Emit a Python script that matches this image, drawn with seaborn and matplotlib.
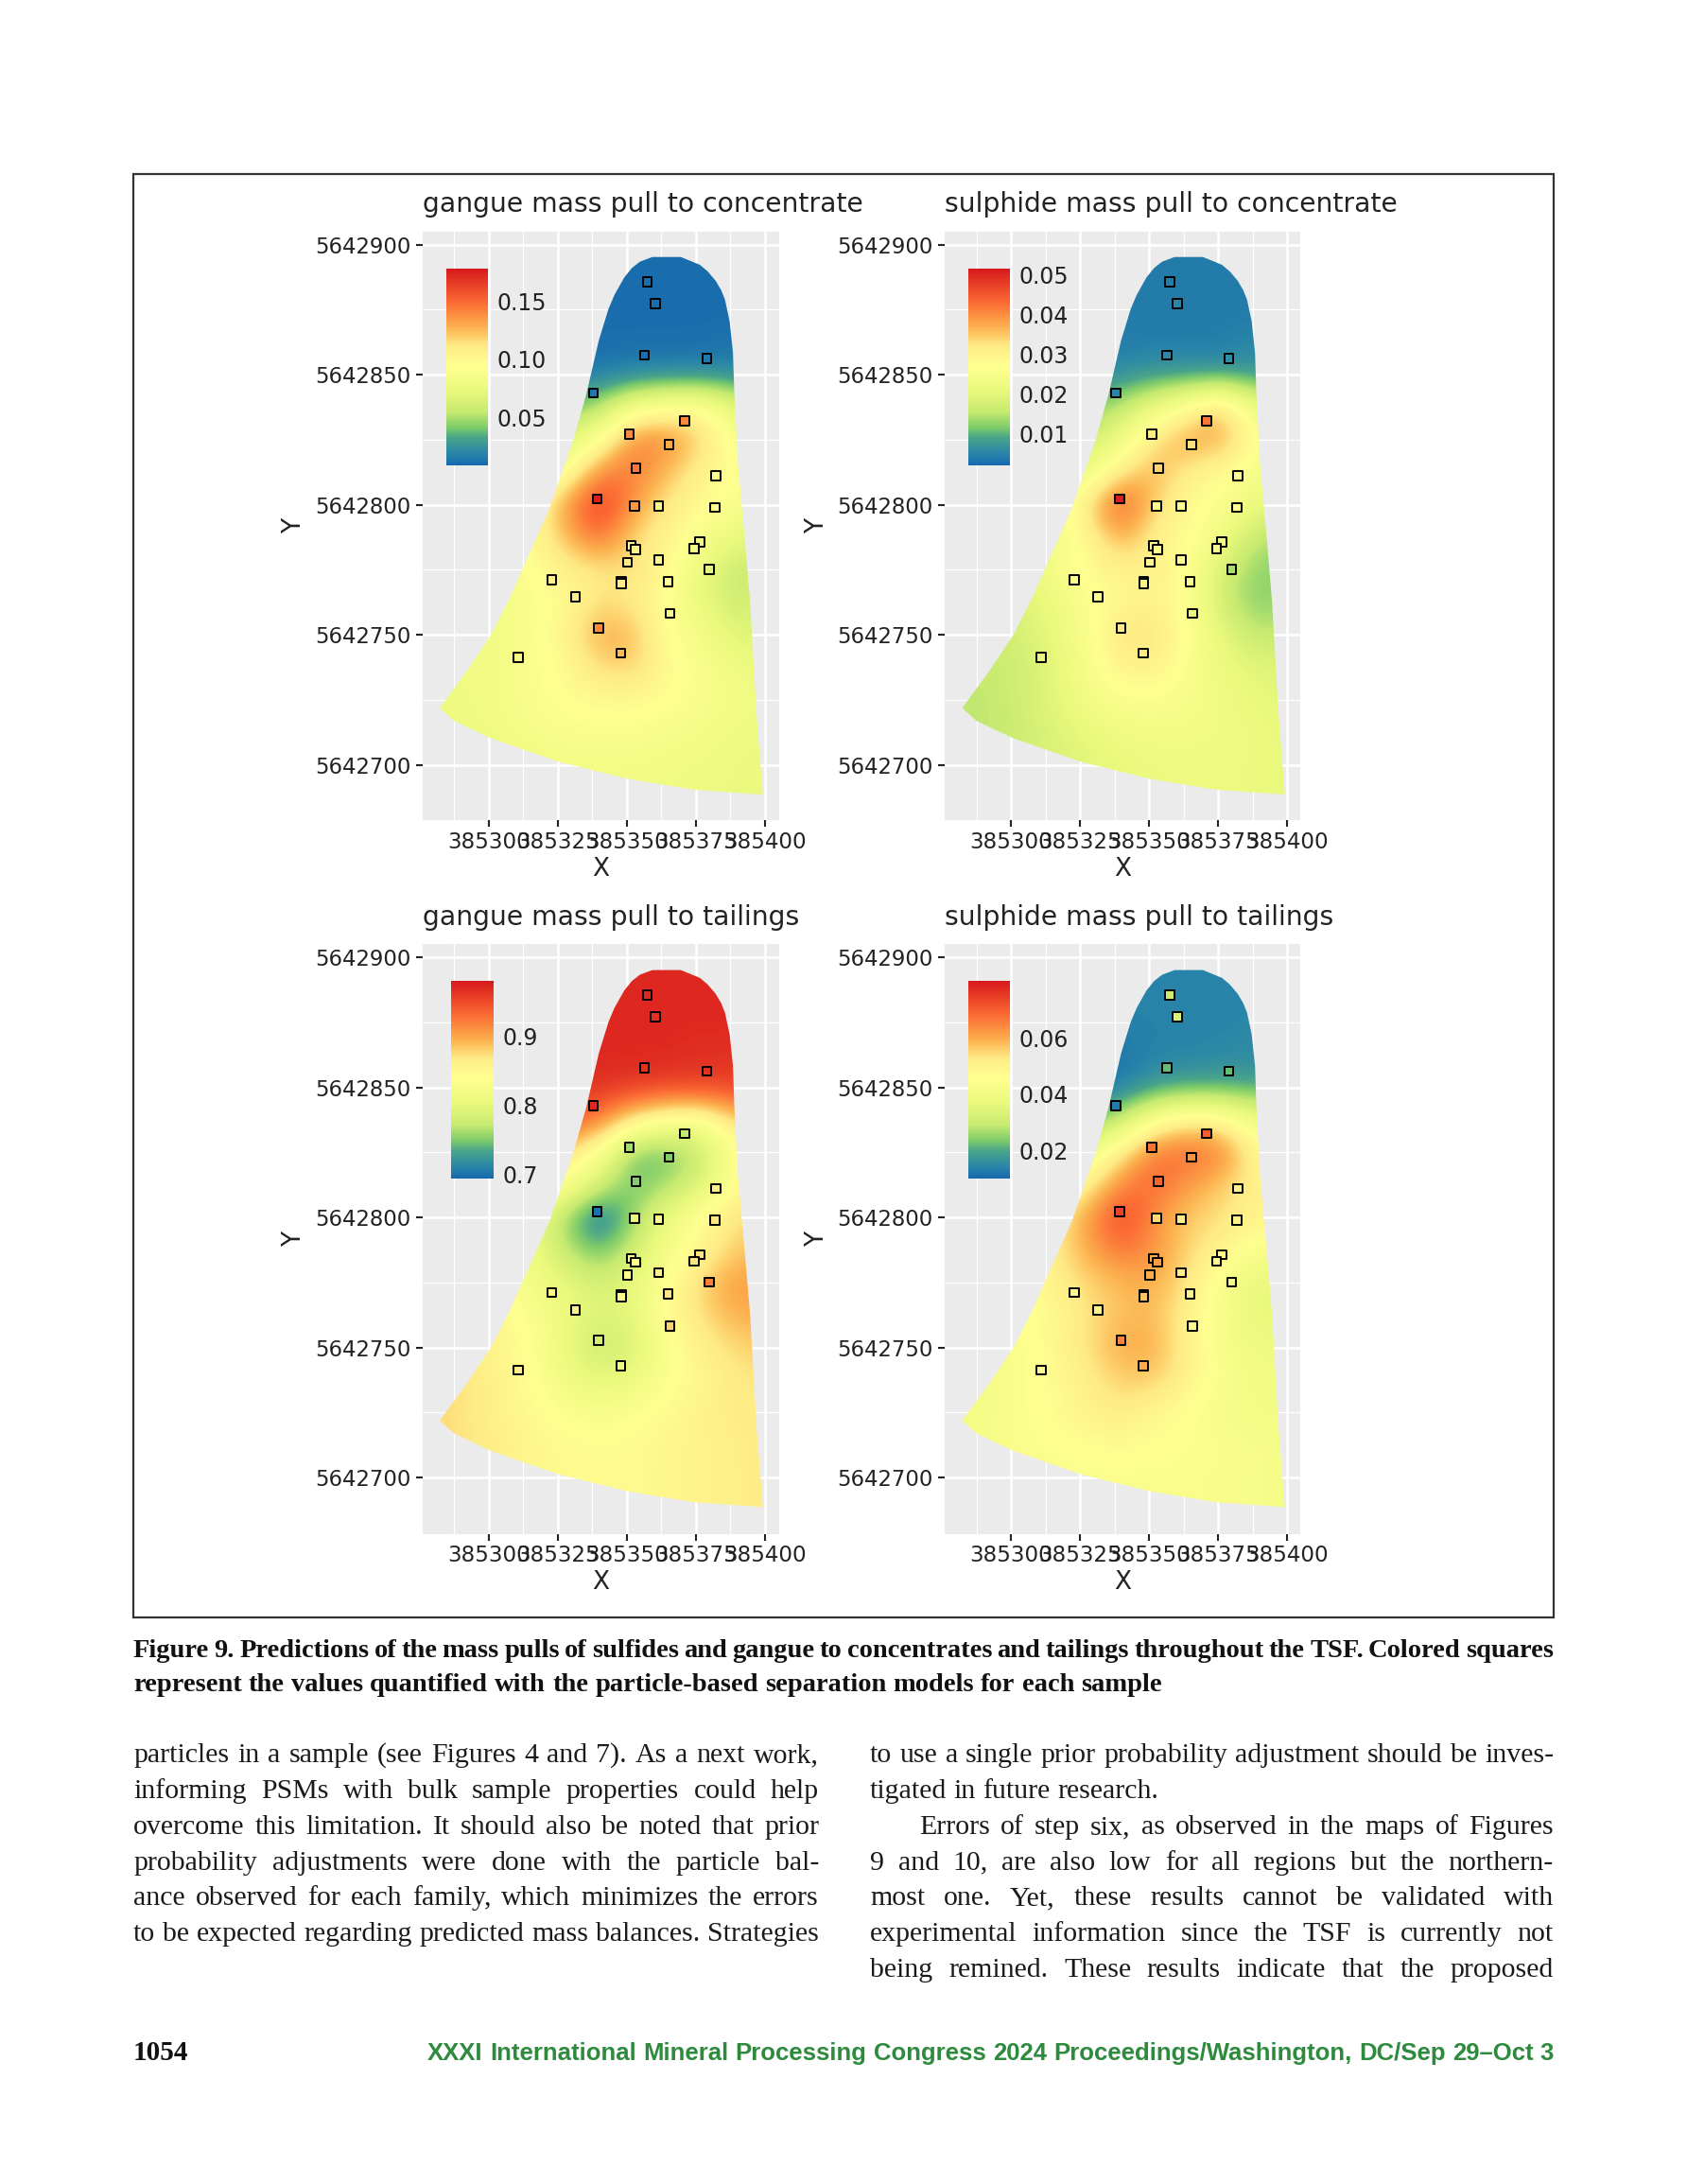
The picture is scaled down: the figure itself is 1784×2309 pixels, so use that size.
import numpy as np
import seaborn as sns
import matplotlib.pyplot as plt
from matplotlib.colors import LinearSegmentedColormap
from matplotlib.patches import Polygon, Rectangle

# sample locations
sample_x = [385357.4, 385360.2, 385356.4, 385378.9, 385337.9, 385370.8, 385350.9, 385365.3, 385353.3, 385382.2,
            385339.2, 385352.7, 385361.5, 385381.9, 385376.4, 385374.4, 385351.6, 385353.0, 385350.2, 385361.5,
            385379.9, 385322.8, 385348.0, 385348.0, 385364.9, 385331.4, 385365.6, 385339.8, 385347.8, 385310.7]
sample_y = [5642885.7, 5642877.3, 5642857.5, 5642856.3, 5642842.9, 5642832.3, 5642827.1, 5642823.2, 5642814.0, 5642811.2,
            5642802.2, 5642799.6, 5642799.4, 5642799.0, 5642785.7, 5642783.2, 5642784.2, 5642782.8, 5642777.9, 5642778.8,
            5642775.1, 5642771.2, 5642770.3, 5642769.6, 5642770.5, 5642764.5, 5642758.2, 5642752.7, 5642743.0, 5642741.3]

# sample colours read back to values through each legend
gangue_conc_samples = [.012, .012, .012, .015, .015, .14, .14, .13, .145, .09, .175, .135, .105, .09, .085,
                       .085, .10, .105, .11, .10, .07, .105, .115, .11, .095, .11, .09, .14, .125, .085]
sulphide_conc_samples = [.004, .005, .005, .006, .005, .042, .032, .033, .034, .027, .051, .028, .027, .027, .024,
                         .025, .029, .028, .029, .028, .014, .027, .031, .03, .026, .027, .021, .032, .032, .022]
gangue_tail_samples = [.97, .965, .965, .965, .97, .77, .76, .75, .75, .86, .70, .80, .85, .87, .87,
                       .87, .83, .84, .84, .86, .92, .85, .84, .84, .87, .86, .88, .78, .81, .86]
sulphide_tail_samples = [.03, .033, .022, .022, .013, .07, .067, .063, .069, .05, .074, .055, .052, .05, .048,
                         .048, .06, .062, .06, .052, .04, .048, .058, .057, .05, .05, .048, .065, .06, .045]

# predicted surface read at grid nodes, rows from north to south
grid_x = [385280, 385292, 385304, 385316, 385328, 385340, 385352, 385364, 385376, 385388, 385400]
grid_y = [5642900, 5642887.5, 5642875, 5642862.5, 5642850, 5642837.5, 5642825, 5642812.5, 5642800,
          5642787.5, 5642775, 5642762.5, 5642750, 5642737.5, 5642725, 5642712.5, 5642700, 5642687.5]

gangue_conc_grid = [
    [.012, .012, .012, .012, .012, .012, .012, .012, .012, .012, .012],
    [.012, .012, .012, .012, .012, .012, .012, .012, .012, .012, .012],
    [.012, .012, .012, .012, .012, .012, .012, .012, .012, .012, .012],
    [.012, .012, .012, .012, .012, .012, .012, .012, .012, .013, .014],
    [.015, .015, .015, .015, .015, .016, .018, .02, .02, .02, .02],
    [.03, .03, .03, .035, .04, .05, .085, .095, .10, .075, .06],
    [.06, .06, .065, .065, .07, .09, .14, .14, .12, .09, .085],
    [.075, .075, .075, .08, .09, .14, .145, .125, .105, .095, .09],
    [.08, .08, .085, .095, .135, .17, .135, .11, .10, .09, .085],
    [.08, .085, .09, .10, .125, .15, .115, .105, .09, .075, .07],
    [.08, .08, .085, .095, .105, .11, .115, .10, .075, .058, .055],
    [.08, .08, .085, .09, .10, .115, .11, .095, .075, .06, .06],
    [.08, .08, .085, .09, .105, .13, .125, .095, .085, .07, .068],
    [.08, .08, .085, .09, .10, .115, .12, .10, .09, .08, .075],
    [.08, .08, .085, .09, .095, .10, .10, .095, .09, .085, .08],
    [.075, .078, .082, .088, .09, .09, .09, .088, .085, .08, .078],
    [.072, .072, .075, .08, .085, .085, .085, .082, .08, .078, .075],
    [.072, .072, .075, .078, .08, .08, .08, .08, .078, .076, .075],
]
sulphide_conc_grid = [
    [.004, .004, .004, .004, .004, .004, .004, .004, .004, .004, .004],
    [.004, .004, .004, .004, .004, .004, .004, .004, .004, .004, .004],
    [.004, .004, .004, .004, .004, .004, .004, .004, .004, .004, .004],
    [.004, .004, .004, .004, .004, .004, .004, .004, .004, .005, .005],
    [.005, .005, .005, .005, .005, .006, .007, .007, .007, .007, .007],
    [.01, .01, .01, .011, .012, .015, .022, .028, .036, .022, .02],
    [.015, .015, .016, .016, .017, .022, .033, .038, .038, .028, .022],
    [.018, .018, .019, .02, .022, .032, .037, .031, .028, .025, .023],
    [.019, .02, .021, .023, .033, .046, .034, .028, .026, .022, .02],
    [.019, .02, .022, .024, .029, .038, .03, .028, .024, .015, .014],
    [.018, .019, .02, .025, .028, .03, .031, .027, .018, .0125, .0125],
    [.016, .017, .019, .022, .026, .029, .03, .027, .017, .012, .013],
    [.015, .016, .018, .021, .026, .033, .033, .027, .021, .015, .016],
    [.015, .016, .017, .02, .025, .03, .031, .026, .022, .02, .019],
    [.015, .015, .017, .02, .024, .026, .026, .025, .023, .021, .02],
    [.015, .015, .017, .019, .021, .023, .024, .024, .023, .022, .021],
    [.015, .016, .017, .018, .02, .021, .022, .022, .022, .022, .021],
    [.015, .016, .017, .018, .02, .021, .022, .022, .022, .022, .021],
]
gangue_tail_grid = [
    [.97, .97, .97, .97, .97, .97, .97, .97, .97, .97, .97],
    [.97, .97, .97, .97, .97, .97, .97, .97, .97, .97, .97],
    [.97, .97, .97, .97, .97, .97, .97, .97, .97, .97, .97],
    [.97, .97, .97, .97, .97, .97, .97, .97, .965, .965, .96],
    [.965, .965, .965, .965, .965, .965, .96, .955, .955, .955, .955],
    [.95, .95, .95, .945, .94, .92, .86, .83, .82, .87, .89],
    [.90, .90, .89, .89, .87, .83, .745, .745, .77, .83, .86],
    [.87, .87, .87, .86, .83, .78, .745, .76, .79, .84, .86],
    [.85, .84, .83, .81, .755, .70, .755, .81, .84, .87, .88],
    [.85, .84, .83, .81, .77, .74, .78, .82, .85, .88, .885],
    [.86, .85, .84, .82, .80, .785, .80, .84, .875, .905, .905],
    [.87, .86, .85, .83, .81, .79, .80, .845, .87, .895, .895],
    [.87, .865, .85, .84, .80, .775, .785, .83, .855, .875, .88],
    [.875, .87, .855, .84, .815, .80, .81, .835, .85, .865, .87],
    [.875, .87, .855, .845, .835, .825, .835, .845, .855, .865, .865],
    [.875, .87, .86, .85, .845, .845, .845, .85, .855, .86, .865],
    [.875, .87, .86, .85, .845, .845, .845, .85, .855, .86, .865],
    [.875, .87, .86, .85, .845, .845, .845, .85, .855, .86, .865],
]
sulphide_tail_grid = [
    [.014, .014, .014, .014, .014, .014, .014, .014, .014, .014, .014],
    [.014, .014, .014, .014, .014, .014, .014, .014, .014, .014, .014],
    [.014, .014, .014, .014, .014, .014, .014, .014, .014, .015, .015],
    [.012, .012, .012, .012, .012, .012, .014, .014, .015, .015, .015],
    [.012, .012, .012, .012, .012, .013, .018, .02, .02, .02, .02],
    [.02, .02, .02, .021, .022, .03, .045, .052, .05, .04, .036],
    [.035, .035, .037, .038, .04, .052, .067, .068, .067, .05, .045],
    [.04, .04, .042, .045, .05, .065, .069, .062, .056, .05, .048],
    [.044, .046, .048, .05, .062, .075, .063, .056, .054, .05, .05],
    [.044, .046, .048, .052, .06, .067, .063, .055, .05, .043, .042],
    [.042, .044, .045, .05, .055, .058, .06, .053, .043, .037, .036],
    [.042, .043, .045, .048, .053, .058, .058, .05, .042, .037, .037],
    [.042, .042, .044, .048, .054, .06, .06, .05, .043, .039, .039],
    [.041, .042, .044, .047, .051, .056, .056, .05, .044, .041, .04],
    [.04, .042, .044, .047, .05, .052, .048, .045, .042, .041, .041],
    [.042, .043, .044, .045, .046, .047, .046, .045, .044, .043, .042],
    [.043, .043, .043, .044, .044, .044, .044, .044, .043, .043, .042],
    [.043, .043, .043, .044, .044, .044, .044, .044, .043, .043, .042],
]

# outline of the tailings storage facility
outline_x = [385282.2, 385291.9, 385301.0, 385307.9, 385314.7, 385321.8, 385330.5, 385335.3, 385339.8, 385343.3,
             385345.5, 385349.0, 385351.8, 385354.7, 385359.2, 385369.5, 385376.4, 385379.2, 385382.1, 385384.1,
             385385.5, 385387.2, 385388.4, 385388.9, 385390.2, 385392.6, 385394.6, 385396.9, 385399.2, 385374.1,
             385350.1, 385325.0, 385300.4, 385287.3]
outline_y = [5642721.9, 5642735.9, 5642750.4, 5642764.9, 5642781.3, 5642798.1, 5642824.6, 5642842.5, 5642863.1, 5642875.2,
             5642880.7, 5642887.3, 5642891.0, 5642893.4, 5642895.2, 5642895.2, 5642892.2, 5642889.7, 5642886.1, 5642882.5,
             5642878.8, 5642870.4, 5642858.3, 5642842.5, 5642815.8, 5642787.6, 5642762.5, 5642720.1, 5642688.6, 5642690.5,
             5642694.7, 5642701.3, 5642710.4, 5642717.0]

panel_titles = ['gangue mass pull to concentrate', 'sulphide mass pull to concentrate',
                'gangue mass pull to tailings', 'sulphide mass pull to tailings']
x_ticks = [385300, 385325, 385350, 385375, 385400]
y_ticks = [5642700, 5642750, 5642800, 5642850, 5642900]
legend_ranges = [(.0096, .1775), (.0020, .0516), (.694, .9795), (.0101, .0802)]
legend_ticks = [[.05, .10, .15], [.01, .02, .03, .04, .05], [.7, .8, .9], [.02, .04, .06]]
legend_labels = [['0.05', '0.10', '0.15'], ['0.01', '0.02', '0.03', '0.04', '0.05'],
                 ['0.7', '0.8', '0.9'], ['0.02', '0.04', '0.06']]

caption_lines = ['Figure 9. Predictions of the mass pulls of sulfides and gangue to concentrates and tailings throughout the TSF. Colored squares',
                 'represent the values quantified with the particle-based separation models for each sample']
left_lines = ['particles in a sample (see Figures 4 and 7). As a next work,',
              'informing PSMs with bulk sample properties could help',
              'overcome this limitation. It should also be noted that prior',
              'probability adjustments were done with the particle bal-',
              'ance observed for each family, which minimizes the errors',
              'to be expected regarding predicted mass balances. Strategies']
right_lines = ['to use a single prior probability adjustment should be inves-',
               'tigated in future research.',
               'Errors of step six, as observed in the maps of Figures',
               '9 and 10, are also low for all regions but the northern-',
               'most one. Yet, these results cannot be validated with',
               'experimental information since the TSF is currently not',
               'being remined. These results indicate that the proposed']
footer_text = 'XXXI International Mineral Processing Congress 2024 Proceedings/Washington, DC/Sep 29–Oct 3'

W, H = 1784, 2309
sns.set_theme(style='darkgrid', rc={'axes.facecolor': '#ebebeb', 'grid.color': 'white'})
plt.rcParams['font.family'] = ['DejaVu Sans']

spectral = LinearSegmentedColormap.from_list('tsf', [
    (0.0, '#1668ae'), (0.06, '#2a86a8'), (0.14, '#4aa58a'), (0.19, '#7ccb6a'), (0.27, '#c7ea70'), (0.38, '#e9f97c'),
    (0.51, '#ffff90'), (0.61, '#feea85'), (0.70, '#fcb24f'), (0.83, '#fb6a33'), (1.0, '#d7191c')])

fig = plt.figure(figsize=(W / 100, H / 100), dpi=100, facecolor='white')

page = fig.add_axes([0, 0, 1, 1], zorder=0)
page.set_xlim(0, W)
page.set_ylim(H, 0)
page.axis('off')
page.add_patch(Rectangle((141, 184), 1502, 1526, fill=False, edgecolor='#333333', linewidth=1.6))


def px_axes(x0, y0, x1, y1, **kw):
    # axes placed from page pixel corners
    return fig.add_axes([x0 / W, 1 - y1 / H, (x1 - x0) / W, (y1 - y0) / H], **kw)


def draw_justified(line, x0, x1, y, justify=True, **kw):
    words = line.split(' ')
    renderer = fig.canvas.get_renderer()
    items = [page.text(0, y, w, ha='left', va='baseline', **kw) for w in words]
    widths = [t.get_window_extent(renderer).width for t in items]
    space = 0.25 * kw['fontsize'] * 100 / 72
    if justify and len(words) > 1:
        space = (x1 - x0 - sum(widths)) / (len(words) - 1)
    pos = x0
    for t, w in zip(items, widths):
        t.set_x(pos)
        pos += w + space


# pixel boxes of the four panels: gray area, tick anchors, legend bar
panel_boxes = [(446.7, 244.5, 824, 867.4), (999.3, 244.5, 1375, 867.4),
               (446.7, 998, 824, 1621.7), (999.3, 998, 1375, 1621.7)]
x_anchor = [(517, 809), (1069.5, 1361), (517, 809), (1069.5, 1361)]
y_anchor = [(258.5, 808.7), (258.5, 808.7), (1012.4, 1562), (1012.4, 1562)]
legend_boxes = [(471.5, 284, 515.6, 491.7), (1023.7, 284, 1068, 491.7),
                (477.5, 1037, 522, 1246), (1023.7, 1037, 1068, 1246)]
grids = [gangue_conc_grid, sulphide_conc_grid, gangue_tail_grid, sulphide_tail_grid]
samples = [gangue_conc_samples, sulphide_conc_samples, gangue_tail_samples, sulphide_tail_samples]

for i in range(4):
    x0, y0, x1, y1 = panel_boxes[i]
    ax = px_axes(x0, y0, x1, y1, zorder=1)
    vmin, vmax = legend_ranges[i]

    # data limits follow from where the tick labels sit on the page
    xa, xb = x_anchor[i]
    ya, yb = y_anchor[i]
    xlim = (x_ticks[0] + (x0 - xa) * 100 / (xb - xa), x_ticks[0] + (x1 - xa) * 100 / (xb - xa))
    ylim = (y_ticks[-1] - (y1 - ya) * 200 / (yb - ya), y_ticks[-1] - (y0 - ya) * 200 / (yb - ya))

    ax.set_axisbelow(True)
    ax.set_xticks(x_ticks)
    ax.set_yticks(y_ticks)
    ax.set_xticks([385287.5, 385312.5, 385337.5, 385362.5, 385387.5], minor=True)
    ax.set_yticks([5642725, 5642775, 5642825, 5642875], minor=True)
    ax.grid(True, which='major', color='white', linewidth=1.8)
    ax.grid(True, which='minor', color='white', linewidth=0.9)
    ax.tick_params(axis='both', which='major', length=5, width=1.5, color='#222222', labelcolor='#222222', bottom=True, left=True)
    ax.tick_params(axis='both', which='minor', length=0)
    ax.tick_params(axis='x', labelsize=16.6, pad=3)
    ax.tick_params(axis='y', labelsize=16.4, pad=4)
    ax.ticklabel_format(useOffset=False, style='plain')
    ax.set_facecolor('#ebebeb')
    for s in ax.spines.values():
        s.set_visible(False)

    dx = (grid_x[1] - grid_x[0]) / 2
    dy = (grid_y[0] - grid_y[1]) / 2
    im = ax.imshow(np.array(grids[i]), cmap=spectral, vmin=vmin, vmax=vmax, aspect='auto', origin='upper',
                   extent=[grid_x[0] - dx, grid_x[-1] + dx, grid_y[-1] - dy, grid_y[0] + dy],
                   interpolation='bicubic', interpolation_stage='data', zorder=2)
    im.set_clip_path(Polygon(np.column_stack([outline_x, outline_y]), transform=ax.transData))
    ax.set_xlim(xlim)
    ax.set_ylim(ylim)

    sns.scatterplot(x=sample_x, y=sample_y, hue=samples[i], palette=spectral, hue_norm=(vmin, vmax), marker='s',
                    s=48, edgecolor='black', linewidth=1.4, legend=False, ax=ax, zorder=3)
    ax.set_xlabel('X', fontsize=19, color='#222222', labelpad=3)
    ax.set_ylabel('Y', fontsize=19, color='#222222', labelpad=6)
    ax.set_title(panel_titles[i], fontsize=20.3, color='#222222', loc='left', pad=14.5)

    # legend bar drawn over the panel
    lx0, ly0, lx1, ly1 = legend_boxes[i]
    cax = px_axes(lx0, ly0, lx1, ly1, zorder=2)
    cb = fig.colorbar(im, cax=cax)
    cb.outline.set_visible(False)
    cb.set_ticks(legend_ticks[i], labels=legend_labels[i])
    cb.ax.tick_params(length=0, labelsize=17, labelcolor='#222222', pad=7, grid_alpha=0)
    cax.grid(False)

# page text
for k, line in enumerate(caption_lines):
    draw_justified(line, 141, 1643, [1752, 1788][k], justify=k == 0, family='Liberation Serif',
                   fontweight='bold', fontsize=20.5, color='#111111')

left_y = [1863, 1901, 1939, 1976.6, 2014.5, 2052]
for line, y in zip(left_lines, left_y):
    draw_justified(line, 141, 866, y, family='Liberation Serif', fontsize=21.5, color='#1a1a1a')

right_y = [1863, 1901, 1939, 1976.6, 2014.5, 2052, 2090]
right_x = [920, 920, 972, 920, 920, 920, 920]
for k, line in enumerate(right_lines):
    draw_justified(line, right_x[k], 1643, right_y[k], justify=k != 1, family='Liberation Serif',
                   fontsize=21.5, color='#1a1a1a')

page.text(141, 2178, '1054', family='Liberation Serif', fontweight='bold', fontsize=21, va='baseline', color='#111111')
draw_justified(footer_text, 452, 1643, 2178, family='Liberation Sans', fontweight='bold', fontsize=18.5, color='#2e8b3d')

fig.savefig('out.png', dpi=100)
